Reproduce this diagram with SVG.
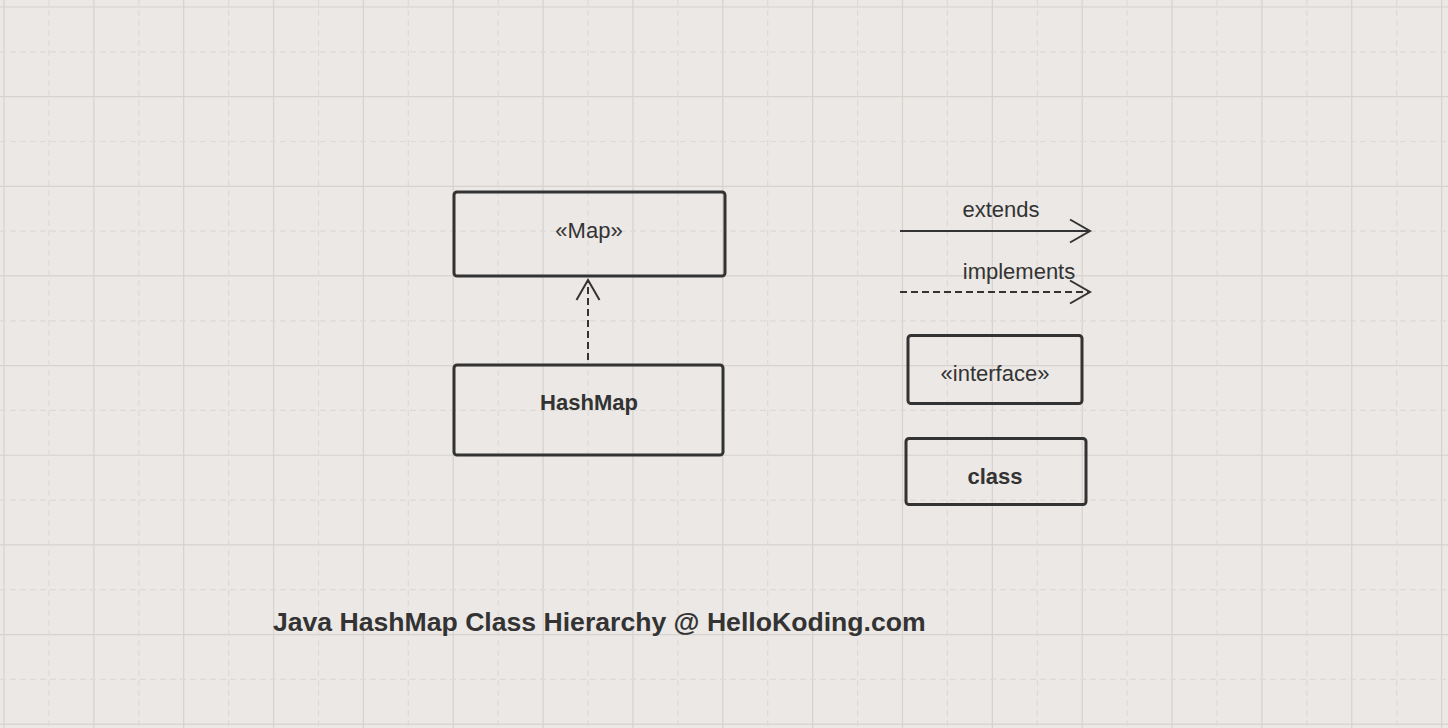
<svg xmlns="http://www.w3.org/2000/svg" width="1448" height="728" viewBox="0 0 1448 728">
<style>
.bg{fill:#ebe8e5}
.grid{stroke:#d5d2d0;stroke-width:1.2;fill:none}
.gridd{stroke:#dddad8;stroke-width:1.2;fill:none;stroke-dasharray:6 4}
.box{fill:none;stroke:#333333;stroke-width:3}
.t{font-family:"Liberation Sans",Arial,sans-serif;font-size:22px;fill:#333333;text-anchor:middle}
.b{font-weight:bold}
.ln{stroke:#333333;stroke-width:2;fill:none}
.dash{stroke-dasharray:7 4}
</style>
<defs>
<marker id="open" markerUnits="userSpaceOnUse" markerWidth="26" markerHeight="28" viewBox="-23 -14 26 28" refX="0" refY="0" orient="auto">
<path d="M-20,-11.5 L0,0 L-20,11.5" fill="none" stroke="#333333" stroke-width="2"/>
</marker>
</defs>
<rect class="bg" x="0" y="0" width="1448" height="728"/>
<g id="grid">
<path class="grid" d="M4,0V728M93.85,0V728M183.7,0V728M273.55,0V728M363.4,0V728M453.25,0V728M543.1,0V728M632.95,0V728M722.8,0V728M812.65,0V728M902.5,0V728M992.35,0V728M1082.2,0V728M1172.05,0V728M1261.9,0V728M1351.75,0V728M1441.6,0V728M0,7H1448M0,96.65H1448M0,186.3H1448M0,275.95H1448M0,365.6H1448M0,455.25H1448M0,544.9H1448M0,634.55H1448M0,724.2H1448"/>
<path class="gridd" d="M48.9,0V728M138.8,0V728M228.6,0V728M318.5,0V728M408.3,0V728M498.2,0V728M588,0V728M677.9,0V728M767.7,0V728M857.6,0V728M947.4,0V728M1037.3,0V728M1127.1,0V728M1217,0V728M1306.8,0V728M1396.7,0V728M0,51.8H1448M0,141.5H1448M0,231.1H1448M0,320.8H1448M0,410.4H1448M0,500.1H1448M0,589.7H1448M0,679.4H1448"/>
</g>
<g id="connectors">
<path class="ln dash" d="M588,360V280" marker-end="url(#open)"/>
</g>
<g id="node-map">
<rect class="box" x="454" y="192" width="271" height="84" rx="3"/>
<text class="t" x="589" y="237.5">«Map»</text>
</g>
<g id="node-hashmap">
<rect class="box" x="454" y="365" width="269" height="90" rx="3"/>
<text class="t b" x="589" y="409.5">HashMap</text>
</g>
<g id="legend">
<g id="legend-extends">
<path class="ln" d="M900,231H1090" marker-end="url(#open)"/>
<text class="t" x="1001" y="217">extends</text>
</g>
<g id="legend-implements">
<path class="ln dash" d="M900,292H1090" marker-end="url(#open)"/>
<text class="t" x="1019" y="278.5">implements</text>
</g>
<g id="legend-interface">
<rect class="box" x="908" y="335.5" width="174" height="68" rx="3"/>
<text class="t" x="995" y="381">«interface»</text>
</g>
<g id="legend-class">
<rect class="box" x="906" y="438.5" width="180" height="66" rx="3"/>
<text class="t b" x="995" y="483.5">class</text>
</g>
</g>
<g id="title">
<text x="273" y="631" style="font-family:'Liberation Sans',Arial,sans-serif;font-size:26.6px;font-weight:bold;fill:#333333">Java HashMap Class Hierarchy @ HelloKoding.com</text>
</g>
</svg>
